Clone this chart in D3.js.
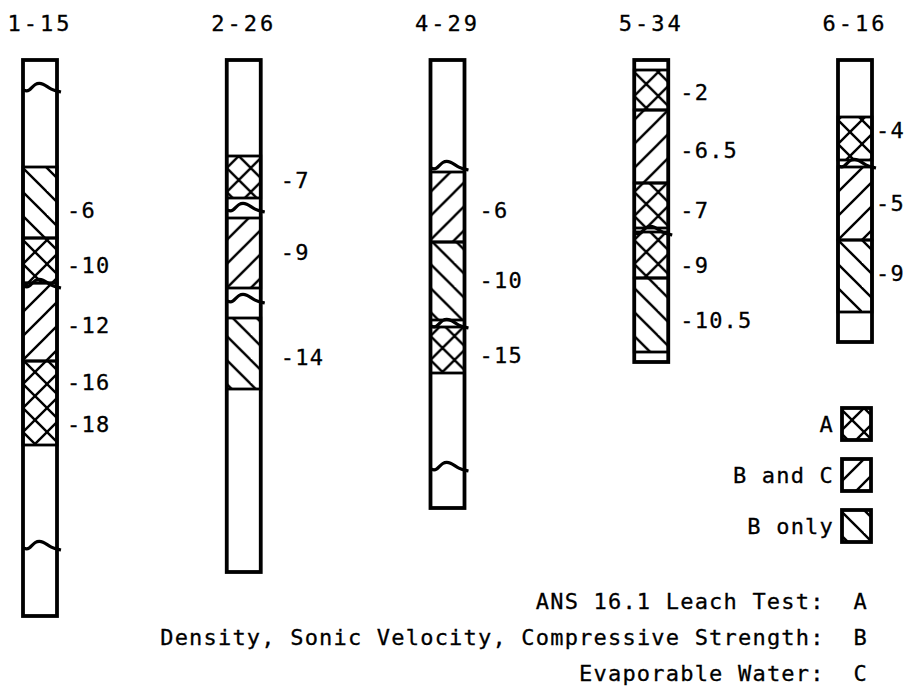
<!DOCTYPE html>
<html>
<head>
<meta charset="utf-8">
<script src="https://cdn.jsdelivr.net/npm/d3@7"></script>
<style>
  body { margin: 0; background: #fff; }
  text { font-family: "DejaVu Sans Mono", monospace; fill: #000; stroke: #000; stroke-width: 0.3; white-space: pre; }
</style>
</head>
<body>
<div class="chart"></div>
<script>
//core names (top labels)
var cores = ["1-15", "2-26", "4-29", "5-34", "6-16"];

//length of each core (depth units from the top)
var coreLength = [556, 512, 448, 302, 282];

//tested sections of each core: [from, to, test]
var segments = [
  [[107, 178, "B"], [178, 223, "A"], [223, 301, "BC"], [301, 385, "A"]],
  [[96, 138, "A"], [158, 228, "BC"], [258, 329, "B"]],
  [[112, 182, "BC"], [182, 260, "B"], [267, 313, "A"]],
  [[10, 50, "A"], [50, 123, "BC"], [123, 168, "A"], [172, 218, "A"], [218, 292, "B"]],
  [[57, 100, "A"], [107, 180, "BC"], [180, 252, "B"]]
];

//breaks in the cores
var breaks = [
  [27, 223, 485],
  [147, 238],
  [105, 263, 406],
  [170],
  [103]
];

//depth labels beside the cores: [depth, text]
var depthLabels = [
  [[150, "-6"], [205, "-10"], [265, "-12"], [322, "-16"], [364, "-18"]],
  [[120, "-7"], [192, "-9"], [297, "-14"]],
  [[150, "-6"], [220, "-10"], [295, "-15"]],
  [[32, "-2"], [90, "-6.5"], [150, "-7"], [205, "-9"], [260, "-10.5"]],
  [[70, "-4"], [143, "-5"], [213, "-9"]]
];

//legend entries
var legendNames = ["A", "B and C", "B only"];
var legendTypes = ["A", "BC", "B"];

//notes under the legend
var noteNames = ["ANS 16.1 Leach Test:", "Density, Sonic Velocity, Compressive Strength:", "Evaporable Water:"];
var noteKeys = ["A", "B", "C"];

//layout
const w = 908;
const h = 694;
const colW = 34;
var labelGap = [10, 20, 15, 12, 4];

const svg = d3.select(".chart")
  .append("svg")
  .attr("width", w)
  .attr("height", h);

//hatch patterns
var defs = svg.append("defs");
var pat = 24;
function addPattern(id, lines) {
  var p = defs.append("pattern")
    .attr("id", id)
    .attr("patternUnits", "userSpaceOnUse")
    .attr("width", pat)
    .attr("height", pat);
  lines.forEach(function(l) {
    p.append("line")
      .attr("x1", l[0]).attr("y1", l[1]).attr("x2", l[2]).attr("y2", l[3])
      .attr("stroke", "#000")
      .attr("stroke-width", 2.4);
  });
}
addPattern("hatch-B", [[-2, -2, pat + 2, pat + 2], [pat - 2, -2, pat + 2, 2], [-2, pat - 2, 2, pat + 2]]);
addPattern("hatch-BC", [[-2, pat + 2, pat + 2, -2], [-2, 2, 2, -2], [pat - 2, pat + 2, pat + 2, pat - 2]]);
addPattern("hatch-A", [[-2, -2, pat + 2, pat + 2], [pat - 2, -2, pat + 2, 2], [-2, pat - 2, 2, pat + 2],
                       [-2, pat + 2, pat + 2, -2], [-2, 2, 2, -2], [pat - 2, pat + 2, pat + 2, pat - 2]]);

//scales
const xScale = d3.scalePoint()
  .domain(cores)
  .range([40, 855]);

const yScale = d3.scaleLinear()
  .domain([0, 560])
  .range([60, 620]);

//wave shape for breaks
var wave = d3.line().curve(d3.curveBasis);
function wavePath(x0, y) {
  var pts = [[x0, y + 3], [x0 + 6, y + 5], [x0 + 12, y - 4], [x0 + 20, y - 4], [x0 + 28, y + 3], [x0 + colW + 4, y + 5]];
  return wave(pts);
}

var core = svg.selectAll(".core")
  .data(cores)
  .enter()
  .append("g")
  .attr("class", "core")
  .attr("transform", (d) => "translate(" + (xScale(d) - colW / 2) + ",0)");

//hatched sections
core.each(function(d, i) {
  var g = d3.select(this);
  g.selectAll("rect.seg")
    .data(segments[i])
    .enter()
    .append("rect")
    .attr("class", "seg")
    .attr("x", 0)
    .attr("y", (s) => yScale(s[0]))
    .attr("width", colW)
    .attr("height", (s) => yScale(s[1]) - yScale(s[0]))
    .attr("fill", (s) => "url(#hatch-" + s[2] + ")")
    .attr("stroke", "#000")
    .attr("stroke-width", 2.8);

  //breaks
  g.selectAll("path.brk")
    .data(breaks[i])
    .enter()
    .append("path")
    .attr("class", "brk")
    .attr("d", (b) => wavePath(0, yScale(b)))
    .attr("fill", "none")
    .attr("stroke", "#000")
    .attr("stroke-width", 3.2);

  //outline
  g.append("rect")
    .attr("x", 0)
    .attr("y", yScale(0))
    .attr("width", colW)
    .attr("height", yScale(coreLength[i]) - yScale(0))
    .attr("fill", "none")
    .attr("stroke", "#000")
    .attr("stroke-width", 3.8);

  //depth labels
  g.selectAll("text.depth")
    .data(depthLabels[i])
    .enter()
    .append("text")
    .attr("class", "depth")
    .attr("x", colW + labelGap[i])
    .attr("y", (l) => yScale(l[0]))
    .attr("dy", "0.36em")
    .attr("font-size", 22)
    .attr("letter-spacing", 1.2)
    .text((l) => l[1]);
});

//core names
svg.selectAll(".name")
  .data(cores)
  .enter()
  .append("text")
  .attr("class", "name")
  .attr("x", (d) => xScale(d))
  .attr("y", 31)
  .attr("text-anchor", "middle")
  .attr("font-size", 22)
  .attr("letter-spacing", 3)
  .text((d) => d);

//legend
var legend = svg.selectAll(".legend")
  .data(legendNames)
  .enter()
  .append("g")
  .attr("class", "legend")
  .attr("transform", (d, i) => "translate(0," + (408 + i * 51) + ")");

legend.append("rect")
  .attr("x", 842)
  .attr("y", 0)
  .attr("width", 29)
  .attr("height", 32)
  .attr("fill", (d, i) => "url(#hatch-" + legendTypes[i] + ")")
  .attr("stroke", "#000")
  .attr("stroke-width", 3.8);

legend.append("text")
  .attr("x", 834)
  .attr("y", 24)
  .attr("text-anchor", "end")
  .attr("font-size", 22)
  .attr("letter-spacing", 1.2)
  .text((d) => d);

//notes
svg.selectAll(".note")
  .data(noteNames)
  .enter()
  .append("text")
  .attr("class", "note")
  .attr("x", 868)
  .attr("y", (d, i) => 609 + i * 36)
  .attr("text-anchor", "end")
  .attr("font-size", 22)
  .attr("letter-spacing", 1.2)
  .text((d, i) => d + "  " + noteKeys[i]);
</script>
</body>
</html>
